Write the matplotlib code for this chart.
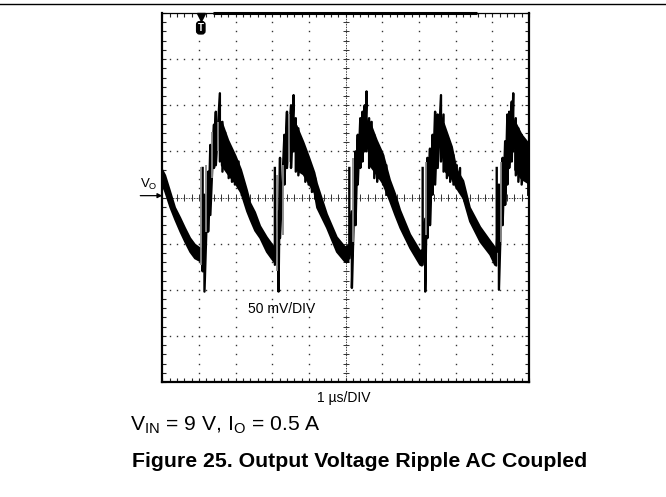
"""Scope capture: output voltage ripple (AC coupled), 50 mV/div, 1 us/div."""

import matplotlib

matplotlib.use("Agg")
import matplotlib.pyplot as plt
import numpy as np

nan = np.nan

# screen is 10 div x 1 us wide, 8 div x 50 mV tall, centred on 0 mV
x_divs = 10
y_divs = 8
mv_per_div = 50

# solid body of the trace (upper / lower edge); gaps where the switch edges are
band_t = [0.00, 0.08, 0.22, 0.35, 0.49, 0.62, 0.76, 0.89, 1.03, 1.08, nan,
          1.62, 1.80, 2.00, 2.15, 2.31, 2.40, 2.53, 2.67, 2.85, 3.05, nan,
          3.66, 3.85, 4.00, 4.15, 4.22, 4.49, 4.76, 4.99, 5.08, nan,
          5.66, 5.85, 6.02, 6.21, 6.35, 6.49, 6.76, 7.03, 7.08, nan,
          7.68, 7.90, 8.03, 8.21, 8.39, 8.67, 8.94, 9.07, 9.11, nan,
          9.62, 9.80, 10.0]
band_hi = [30, 24, 6, -11, -22, -33, -44, -51, -55, -56, nan,
           82, 62, 45, 30, 8, -6, -16, -31, -43, -54, nan,
           78, 60, 44, 27, 15, -18, -43, -54, -52, nan,
           82, 62, 47, 19, 4, -14, -40, -58, -57, nan,
           80, 55, 30, 18, -11, -32, -47, -54, -55, nan,
           82, 68, 58]
band_lo = [14, 6, -11, -24, -37, -48, -59, -66, -69, -70, nan,
           35, 25, 15, 5, -15, -24, -36, -44, -59, -70, nan,
           30, 25, 15, 5, -11, -33, -59, -70, -70, nan,
           35, 25, 15, -4, -19, -33, -55, -73, -74, nan,
           30, 20, 10, -1, -26, -48, -62, -73, -74, nan,
           30, 20, 15]

# ringing after each switching edge (stroke top / bottom, mV)
ring_t = [1.10, 1.15, 1.25, 1.31, 1.41, 1.46, 1.57, 1.64, 1.71, 1.81, 1.90, 1.98, 2.08, 2.17, nan,
          3.07, 3.17, 3.21, 3.33, 3.40, 3.51, 3.58, 3.64, 3.71, 3.81, 3.90, 3.99, 4.08, 4.17, nan,
          5.10, 5.17, 5.27, 5.33, 5.40, 5.46, 5.52, 5.57, 5.64, 5.71, 5.78, 5.86, 5.93, 6.02, 6.11, nan,
          7.10, 7.17, 7.23, 7.30, 7.37, 7.44, 7.51, 7.60, 7.67, 7.76, 7.85, 7.94, 8.03, 8.12, nan,
          9.12, 9.18, 9.28, 9.35, 9.41, 9.46, 9.53, 9.57, 9.64, 9.71, 9.80, 9.89, 9.98]
ring_hi = [32, 3, 28, 57, 79, 93, 113, 82, 71, 57, 50, 43, 39, 24, nan,
           32, -15, 43, 68, 93, 100, 111, 86, 75, 61, 50, 43, 32, 21, nan,
           32, -15, 50, 68, 86, 93, 100, 115, 86, 82, 68, 57, 46, 46, 35, nan,
           32, -23, 43, 53, 68, 93, 90, 111, 90, 68, 53, 46, 35, 32, nan,
           32, 14, 43, 61, 90, 93, 104, 113, 86, 75, 68, 57, 50]
ring_lo = [-80, -102, -37, -19, 32, 35, 39, 28, 35, 21, 17, 14, 10, 3, nan,
           -73, -102, -44, 14, 32, 32, 50, 28, 24, 32, 17, 14, 6, -1, nan,
           -66, -98, -30, 14, 32, 39, 50, 50, 32, 35, 21, 17, 21, 14, 3, nan,
           -73, -102, -44, -30, 3, 14, 32, 39, 28, 21, 17, 14, 10, 6, nan,
           -59, -100, -30, -8, 14, 32, 39, 50, 24, 17, 14, 21, 3]

# lighter (less persistent) strokes
gray_t = [1.05, 1.19, 1.35, 1.53, 3.12, 3.28, 3.46, 5.21, 7.20, 9.23]
gray_hi = [33, 35, 71, 82, 24, 35, 90, 43, 39, 39]
gray_lo = [-73, -37, 21, 50, -80, -41, 39, -48, -41, -48]

trigger_t = 1.05
record_bar = (1.38, 8.58)


def main() -> int:
    plt.rcParams["font.family"] = ["Liberation Sans", "DejaVu Sans"]
    plt.rcParams["mathtext.fontset"] = "custom"
    plt.rcParams["mathtext.rm"] = "Liberation Sans"

    W, H = 666, 497
    fig = plt.figure(figsize=(W / 100, H / 100), dpi=100)
    left, right, top, bottom = 162.3, 529, 13, 382
    ax = fig.add_axes([left / W, 1 - bottom / H, (right - left) / W, (bottom - top) / H])

    ymax = y_divs / 2 * mv_per_div
    ax.set_xlim(0, x_divs)
    ax.set_ylim(-ymax, ymax)

    # graticule: dotted grid, dense centre cross, inward ticks on the frame
    major_x = np.arange(0, x_divs + 0.01, 1)
    minor_x = np.arange(0, x_divs + 0.01, 0.2)
    major_y = np.arange(-ymax, ymax + 1, mv_per_div)
    minor_y = np.arange(-ymax, ymax + 1, mv_per_div / 5)
    ax.set_xticks(major_x)
    ax.set_xticks(minor_x, minor=True)
    ax.set_yticks(major_y)
    ax.set_yticks(minor_y, minor=True)
    ax.tick_params(which="both", direction="in", top=True, right=True,
                   labelbottom=False, labelleft=False, length=3.2, width=0.8, color="#222")

    gx, gy = np.meshgrid(major_x[1:-1], minor_y)
    ax.plot(gx.ravel(), gy.ravel(), ls="none", marker="s", ms=1.0, mew=0, color="#333", zorder=1)
    gx, gy = np.meshgrid(minor_x, major_y[1:-1])
    ax.plot(gx.ravel(), gy.ravel(), ls="none", marker="s", ms=1.0, mew=0, color="#333", zorder=1)

    ax.axhline(0, color="#444", lw=0.7, ls=(0, (1.5, 1.2)), zorder=1)
    ax.axvline(x_divs / 2, color="#444", lw=0.7, ls=(0, (1.5, 1.2)), zorder=1)
    ax.vlines(minor_x, -3.5, 3.5, colors="#333", lw=0.7, zorder=1)
    ax.hlines(minor_y, x_divs / 2 - 0.08, x_divs / 2 + 0.08, colors="#333", lw=0.7, zorder=1)

    for side in ("left", "bottom", "right"):
        ax.spines[side].set_linewidth(1.6)
    ax.spines["top"].set_linewidth(0.9)

    # trace
    ax.fill_between(band_t, band_lo, band_hi, color="black", lw=1.3, zorder=3)
    rt = np.repeat(ring_t, 2)
    rv = np.column_stack([ring_hi, ring_lo]).ravel()
    ax.plot(rt, rv, color="black", lw=1.7, zorder=3)
    ax.vlines(gray_t, gray_lo, gray_hi, colors="#8a8a8a", lw=1.3, zorder=4)

    # record-length bar and trigger marker
    ax.plot(record_bar, [ymax, ymax], color="black", lw=2.2, solid_capstyle="butt",
            clip_on=False, zorder=5)
    ax.plot(trigger_t, ymax - 4, marker="v", ms=5.5, color="black", clip_on=False, zorder=6)
    ax.text(trigger_t, ymax - 16, "T", ha="center", va="center", color="white",
            fontsize=7, fontweight="bold", zorder=6,
            bbox=dict(boxstyle="round,pad=0.12,rounding_size=0.3", fc="black", ec="black"))

    # channel marker
    ax.annotate("", xy=(0, 2), xytext=(-0.6, 2), annotation_clip=False,
                arrowprops=dict(arrowstyle="-|>", color="black", lw=0.9,
                                mutation_scale=7, shrinkA=0, shrinkB=0))
    ax.text(-0.62, 10, r"V$_\mathrm{O}$", fontsize=9.5, ha="left", va="baseline")

    ax.text(3.26, -121, "50 mV/DIV", fontsize=10, ha="center", va="center")

    fig.text(344 / W, 1 - 402 / H, "1 µs/DIV", fontsize=10, ha="center", va="baseline")
    fig.text(130 / W, 1 - 430 / H, r"V$_\mathrm{IN}$ = 9 V, I$_\mathrm{O}$ = 0.5 A",
             fontsize=15.2, ha="left", va="baseline")
    fig.text(131.7 / W, 1 - 466.7 / H, "Figure 25. Output Voltage Ripple AC Coupled",
             fontsize=15.3, fontweight="bold", ha="left", va="baseline")

    # page rule along the top
    fig.add_artist(plt.Line2D([0, 1], [1 - 3.5 / H, 1 - 3.5 / H], color="black", lw=1.0))

    fig.savefig("out.png", dpi=100)
    plt.close(fig)
    return 0


if __name__ == "__main__":
    raise SystemExit(main())
